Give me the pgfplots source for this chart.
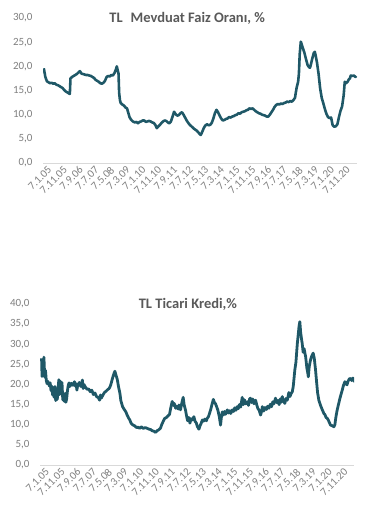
\documentclass[border=0pt]{standalone}
\usepackage{pgfplots}
\pgfplotsset{compat=1.18}
\usepackage{fontspec}
\setmainfont{Carlito}
\definecolor{lineteal}{RGB}{31,88,103}
\definecolor{ticklab}{RGB}{127,127,127}
\definecolor{titlegray}{RGB}{89,89,89}
\definecolor{axisgray}{RGB}{217,217,217}
\pgfplotsset{
  mystyle/.style={
    scale only axis,
    width=314bp,
    axis x line*=bottom,
    axis y line*=left,
    x axis line style={draw=axisgray, line width=0.8pt},
    y axis line style={draw=none},
    major tick length=0pt,
    tick style={draw=none},
    ymin=0,
    xtick={0,10,...,190},
    xticklabels={7.1.05,7.11.05,7.9.06,7.7.07,7.5.08,7.3.09,7.1.10,7.11.10,7.9.11,7.7.12,7.5.13,7.3.14,7.1.15,7.11.15,7.9.16,7.7.17,7.5.18,7.3.19,7.1.20,7.11.20},
    xticklabel style={rotate=45, anchor=east, font=\fontsize{11bp}{13bp}\selectfont, text=ticklab, inner sep=1pt, yshift=-8bp, xshift=1.5bp},
    yticklabel style={font=\fontsize{11bp}{13bp}\selectfont, text=ticklab, xshift=-7bp},
    /pgf/number format/.cd, fixed, fixed zerofill, precision=1, use comma, assume math mode=true,
    /pgfplots/.cd,
    title style={font=\fontsize{14.5bp}{16bp}\selectfont\bfseries, text=titlegray, anchor=center},
  }
}
\begin{document}
\begin{tikzpicture}[x=1bp,y=1bp]
\useasboundingbox (0,0) rectangle (379,518);
\begin{axis}[mystyle,
  at={(43bp,355bp)}, anchor=south west,
  height=145bp,
  xmin=-0.5, xmax=199.5,
  ymax=30, ytick={0,5,...,30},
  title={TL\hspace{0.55em}Mevduat Faiz Oranı, \%},
  title style={at={(0.459,0.955)}},
]
\addplot[color=lineteal, line width=2.6pt, line join=round] coordinates {
(0,19.6)(1,17.8)(2,16.9)(3,16.7)(4,16.5)(5,16.6)(6,16.4)(7,16.5)(8,16.2)(9,16.1)
(10,15.9)(11,15.7)(12,15.5)(13,15.1)(14,14.8)(15,14.6)(16,14.4)(16.6,14.3)(17,17.5)(18,17.8)
(19,18.0)(20,18.2)(21,18.4)(22,18.7)(23,19.0)(24,18.5)(25,18.4)(26,18.3)(27,18.2)(28,18.2)
(29,18.1)(30,18.0)(31,17.8)(32,17.6)(33,17.2)(34,17.0)(35,16.8)(36,16.5)(37,16.4)(38,16.6)
(39,17.0)(40,17.8)(41,18.0)(42,17.9)(43,18.2)(44,18.1)(45,18.6)(46,19.4)(46.5,20.0)(47,19.3)
(47.6,18.5)(48,14.5)(48.5,13.0)(49,12.4)(50,12.1)(51,11.9)(52,11.5)(53,11.3)(54,10.2)(54.6,9.5)
(55.5,9.0)(56.7,8.6)(58,8.4)(59,8.5)(60,8.2)(61,8.5)(62,8.6)(63,8.8)(64,8.8)(65,8.5)
(66,8.6)(67,8.7)(68,8.6)(69,8.4)(70,8.3)(71,7.9)(72,7.2)(73,7.6)(74,7.9)(75,8.3)
(76,8.6)(77,8.8)(78,8.7)(79,8.4)(80,8.2)(81,8.6)(82,9.6)(83,10.6)(84,10.1)(85,9.8)
(86,9.9)(87,10.3)(88,10.5)(89,10.0)(90,9.4)(91,8.8)(92,8.3)(93,7.9)(94,7.6)(95,7.3)
(96,7.0)(97,6.8)(98,6.5)(99,6.1)(100,5.8)(101,6.5)(102,7.3)(103,7.8)(104,8.0)(105,7.8)
(106,7.9)(107,8.3)(108,9.2)(109,10.3)(110,11.0)(111,10.5)(112,9.8)(113,9.2)(114,8.8)(115,8.9)
(116,9.1)(117,9.2)(118,9.5)(119,9.4)(120,9.6)(121,9.7)(122,9.9)(123,10.0)(124,10.3)(125,10.2)
(126,10.5)(127,10.6)(128,10.7)(129,10.9)(130,11.0)(131,11.3)(132,11.2)(133,11.3)(134,11.0)(135,10.7)
(136,10.5)(137,10.3)(138,10.2)(139,10.0)(140,9.9)(141,9.8)(142,9.6)(143,9.6)(144,10.0)(145,10.5)
(146,11.0)(147,11.6)(148,12.0)(149,12.2)(150,12.1)(151,12.3)(152,12.2)(153,12.4)(154,12.5)(155,12.7)
(156,12.6)(157,12.8)(158,12.7)(159,13.0)(160,13.5)(161,15.5)(162,16.8)(162.5,18.5)(163,22.5)(163.7,25.1)
(164.5,24.3)(165,23.8)(166,22.8)(167,21.5)(168,20.3)(169,19.8)(169.5,19.7)(170,20.2)(171,21.6)(172,22.8)
(172.6,23.0)(173,22.5)(174,20.8)(175,18.5)(176,15.5)(177,13.5)(178,12.4)(179,11.2)(180,10.2)(181,9.5)
(182,9.3)(183,9.4)(184,7.8)(185,7.5)(186,7.6)(187,8.0)(188,9.5)(189,10.8)(190,11.7)(191,14.0)
(191.7,16.8)(192.5,16.5)(193.5,16.8)(194.3,17.3)(195,17.5)(195.5,18.1)(196.5,18.0)(197.5,18.1)(198.5,17.8)(199,18.0)
};
\end{axis}
\begin{axis}[mystyle,
  at={(40bp,53bp)}, anchor=south west,
  height=161bp,
  xmin=-1, xmax=199,
  ymax=40, ytick={0,5,...,40},
  title={TL Ticari Kredi,\%},
  title style={at={(0.471,0.96)}},
]
\addplot[color=lineteal, line width=2.8pt, line join=round] coordinates {
(0,26.5)(0.3,22.0)(0.7,25.8)(1,22.5)(1.5,26.8)(2,21.8)(2.5,23.5)(3,21.0)(3.5,20.2)(4,20.8)
(5,19.6)(5.5,20.4)(6,18.5)(6.5,19.6)(7,17.4)(7.5,19.2)(8,16.8)(8.5,19.5)(9,16.0)(9.5,17.8)
(10,16.3)(10.5,19.0)(11,21.2)(11.5,17.5)(12,20.8)(12.5,18.0)(13,20.5)(13.5,16.2)(14,17.0)(14.5,15.8)
(15,17.8)(15.5,15.6)(16,16.5)(16.5,18.5)(17,19.8)(17.5,20.4)(18,19.5)(19,20.3)(20,19.8)(21,20.7)
(21.5,19.6)(22,20.2)(22.5,18.6)(23,19.8)(24,20.5)(25,19.5)(26,21.1)(26.5,19.0)(27,20.0)(28,19.3)
(29,18.8)(30,18.9)(31,18.2)(32,18.6)(33,17.5)(34,17.9)(35,17.0)(36,16.8)(37,16.1)(37.5,17.4)
(38,16.6)(39,17.3)(40,18.0)(41,18.3)(42,18.7)(43,19.0)(44,19.8)(45,21.3)(46,22.6)(46.7,23.3)
(47.5,22.2)(48.2,21.3)(49,19.5)(49.9,17.8)(50.5,16.0)(51.6,14.5)(52.5,13.9)(53.7,13.2)(54.5,12.4)(55.5,11.6)
(56.2,11.2)(57,10.4)(58,10.0)(59.4,9.7)(60.5,9.3)(61.5,9.4)(62.5,9.1)(63.5,9.5)(64.8,9.1)(66,9.3)
(67.3,9.1)(68.5,8.9)(69.5,8.8)(70.5,8.5)(71.5,8.4)(72.6,8.1)(73.5,8.5)(74.5,8.7)(75.8,9.2)(76.5,10.0)
(77.9,11.2)(78.5,11.6)(79.5,11.8)(81,12.4)(81.5,12.6)(82.5,14.6)(83.2,15.8)(84,14.8)(84.5,15.3)(85.4,14.1)
(86,14.6)(87,13.9)(87.5,14.9)(88.5,13.7)(89.2,15.2)(90.2,16.8)(90.8,15.0)(91.7,13.6)(92.3,12.3)(93,11.0)
(93.8,11.8)(94.5,10.4)(95.2,11.5)(96,11.2)(97,12.0)(97.8,10.8)(98.5,10.5)(99.2,9.6)(100.2,8.9)(101,9.8)
(101.7,10.4)(102.4,11.2)(103.2,10.9)(104,11.4)(105,11.0)(105.5,11.6)(106.3,12.0)(107.6,13.6)(108.5,15.0)(109.4,16.3)
(110,15.6)(110.8,15.2)(111.5,14.5)(112.3,13.6)(113.2,12.0)(114,9.9)(114.5,11.8)(115.1,13.2)(115.8,12.4)(116.5,13.3)
(117.2,12.6)(118.3,13.7)(119,12.9)(119.8,13.5)(120.5,12.8)(121.5,13.7)(122.3,13.3)(123,14.2)(123.8,13.6)(124.6,14.5)
(125.3,14.0)(126,15.0)(126.8,14.4)(127.8,16.8)(128.5,15.0)(129.2,16.2)(130,15.2)(131,15.7)(131.8,14.8)(132.5,16.4)
(133,16.6)(133.8,15.5)(134.5,16.4)(135.3,15.2)(136.3,16.1)(137,15.0)(137.8,14.0)(138.6,13.6)(139.5,12.4)(140.2,13.4)
(140.6,14.5)(141.5,13.4)(142.3,14.3)(143.2,13.8)(144,14.6)(144.8,14.1)(145.7,15.1)(146.5,14.5)(147.3,15.7)(148,15.2)
(149,16.6)(149.8,15.5)(150.5,16.0)(151.3,15.0)(152,16.4)(152.7,15.6)(153.3,17.0)(154,16.0)(154.9,15.3)(155.7,16.5)
(156.5,16.1)(157.5,18.0)(158.2,17.0)(159,17.8)(159.7,18.2)(160.3,19.5)(161.3,23.6)(162,25.5)(162.9,30.2)(163.5,32.5)
(164,34.5)(164.5,35.6)(165,33.0)(165.5,31.5)(166,30.2)(166.6,28.0)(167.2,28.9)(168.2,26.9)(169,24.0)(169.5,23.0)
(169.9,21.9)(170.5,24.5)(171.3,26.1)(172,27.0)(173,27.8)(173.7,26.5)(174.5,23.6)(175.2,20.5)(175.8,18.0)(176.6,16.1)
(177.5,15.0)(178.5,14.0)(179.8,12.8)(180.5,12.5)(181.2,11.8)(182,11.6)(182.8,11.0)(183.5,10.4)(184,9.9)(185,9.8)
(185.7,9.6)(186.2,9.5)(186.8,10.0)(187.5,12.0)(188.3,13.7)(189.2,15.2)(190.2,16.8)(191,17.9)(191.5,18.6)(192.3,19.8)
(193.2,20.7)(194,20.2)(194.5,19.9)(195.2,20.8)(196,21.4)(196.8,21.5)(197.5,21.0)(198.3,21.6)(199,20.9)(199.6,20.7)
};
\end{axis}
\end{tikzpicture}
\end{document}
